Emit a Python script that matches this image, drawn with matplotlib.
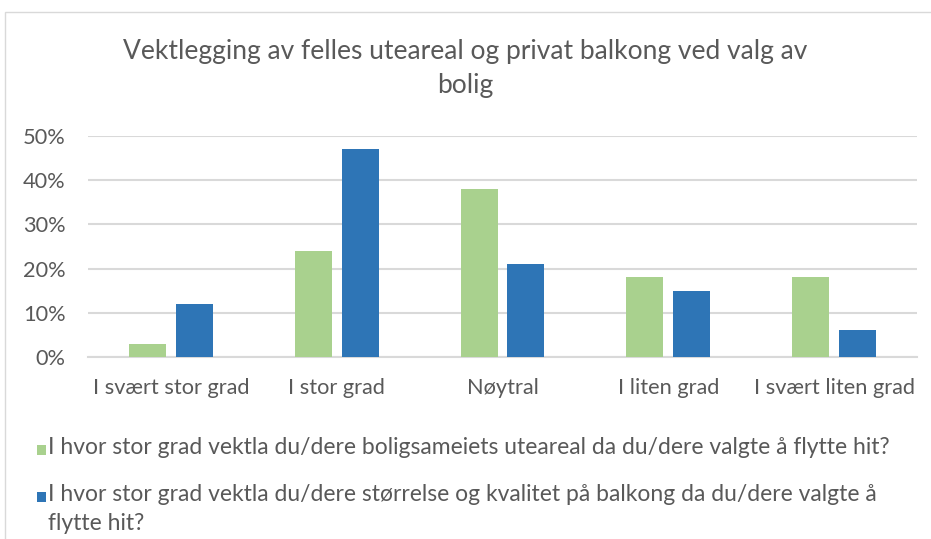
import numpy as np
import matplotlib.pyplot as plt
from matplotlib.patches import Rectangle

# Survey answers, share of respondents
categories = ['I svært stor grad', 'I stor grad', 'Nøytral', 'I liten grad', 'I svært liten grad']
uteareal = [0.03, 0.24, 0.38, 0.18, 0.18]
balkong = [0.12, 0.47, 0.21, 0.15, 0.06]
series_labels = [
    'I hvor stor grad vektla du/dere boligsameiets uteareal da du/dere valgte å flytte hit?',
    'I hvor stor grad vektla du/dere størrelse og kvalitet på balkong da du/dere valgte å\nflytte hit?',
]
yticks = [0, 0.1, 0.2, 0.3, 0.4, 0.5]

plt.rcParams['font.family'] = ['Lato', 'DejaVu Sans']
text_color = '#595959'
green = '#a9d18e'
blue = '#2e75b6'
grid_color = '#d9d9d9'

fig = plt.figure(figsize=(9.31, 5.39), dpi=100)

# Chart frame
fig.patches.append(Rectangle((5 / 931, -0.1), 1.0, (539 - 12) / 539 + 0.1,
                             transform=fig.transFigure, fill=False,
                             edgecolor='#d9d9d9', linewidth=1.0))

ax = fig.add_axes([88 / 931, (539 - 357) / 539, (917 - 88) / 931, (357 - 136) / 539])

x = np.arange(len(categories))
width = 0.223
offset = 0.141
ax.bar(x - offset, uteareal, width, color=green, zorder=3)
ax.bar(x + offset, balkong, width, color=blue, zorder=3)

ax.set_xlim(-0.5, len(categories) - 0.5)
ax.set_ylim(0, 0.5)
ax.set_yticks(yticks)
ax.set_yticklabels([f'{int(round(v * 100))}%' for v in yticks])
ax.set_xticks(x)
ax.set_xticklabels(categories)
ax.tick_params(axis='both', length=0, labelsize=15.7, colors=text_color)
ax.tick_params(axis='y', pad=16)
ax.tick_params(axis='x', pad=15)
ax.yaxis.grid(True, color=grid_color, linewidth=1.5, zorder=0)
for side in ['top', 'right', 'left']:
    ax.spines[side].set_visible(False)
ax.spines['bottom'].set_color(grid_color)
ax.spines['bottom'].set_linewidth(1.5)

fig.text(465 / 931, 1 - 69 / 539, 'Vektlegging av felles uteareal og privat balkong ved valg av\nbolig',
         ha='center', va='center', fontsize=19, color=text_color, linespacing=1.45)

# Legend drawn by hand so the long label can wrap under its own text
legend_y = [450, 497]
for color, label, ly in zip([green, blue], series_labels, legend_y):
    fig.patches.append(Rectangle((37 / 931, 1 - (ly + 5) / 539), 9 / 931, 10 / 539,
                                 transform=fig.transFigure, facecolor=color, edgecolor='none'))
    fig.text(48 / 931, 1 - (ly - 13) / 539, label, ha='left', va='top',
             fontsize=16.5, color=text_color, linespacing=1.5)

fig.savefig('out.png', dpi=100)
